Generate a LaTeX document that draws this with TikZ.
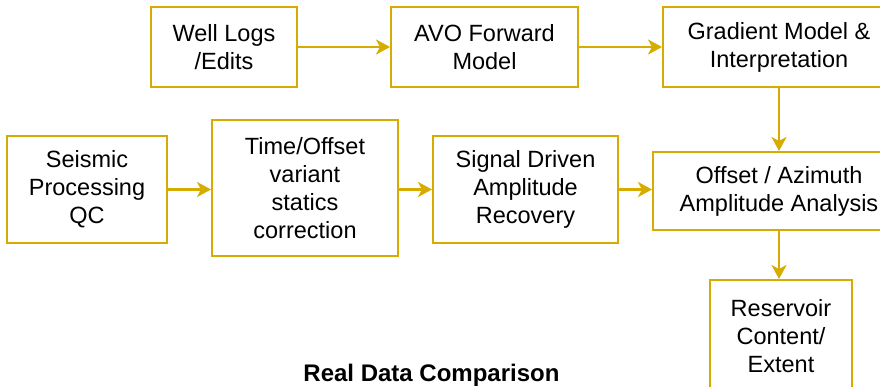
\documentclass[tikz,border=0pt]{standalone}
\usepackage{fontspec}
\setmainfont{Liberation Sans}
\usetikzlibrary{arrows.meta}
\definecolor{gold}{RGB}{214,172,0}
\begin{document}
\begin{tikzpicture}[x=1pt,y=-1pt,
  box/.style={draw=gold, line width=2pt, fill=white, align=center, inner sep=0pt,
    font=\fontsize{23.5}{28}\selectfont, text=black},
  flow/.style={draw=gold, line width=2.5pt, -{Stealth[length=14pt,width=15pt,inset=4pt]}},
  titletext/.style={font=\fontsize{24}{28}\selectfont\bfseries, text=black, inner sep=0pt}]
\useasboundingbox (0,0) rectangle (880,386);
\clip (0,0) rectangle (880,386);
\fill[white] (0,0) rectangle (880,386);
% top row
\node[box, minimum width=146pt, minimum height=80pt] (well) at (224,47) {Well Logs\\/Edits};
\node[box, minimum width=187pt, minimum height=80pt] (avo) at (484.5,47) {AVO Forward\\Model};
\node[box, minimum width=232pt, minimum height=80pt] (grad) at (779,47) {Gradient Model \&\\Interpretation};
% middle row
\node[box, minimum width=160pt, minimum height=107pt] (seis) at (87,189.5) {Seismic\\Processing\\QC};
\node[box, minimum width=186pt, minimum height=136pt] (time) at (305,188) {Time/Offset\\variant\\statics\\correction};
\node[box, minimum width=185pt, minimum height=107pt] (sig) at (525.5,189.5) {Signal Driven\\Amplitude\\Recovery};
\node[box, minimum width=252pt, minimum height=78pt] (off) at (779,191) {Offset / Azimuth\\Amplitude Analysis};
% bottom
\node[box, minimum width=142pt, minimum height=112pt] (res) at (781,336) {Reservoir\\Content/\\Extent};
\node[titletext] (title) at (431.5,375) {Real Data Comparison};
% connectors
\draw[flow] (well.east) -- (avo.west);
\draw[flow] (avo.east) -- (grad.west);
\draw[flow] (seis.east) -- (seis.east -| time.west);
\draw[flow] (seis.east -| time.east) -- (seis.east -| sig.west);
\draw[flow] (sig.east) -- (sig.east -| off.west);
\draw[flow] (grad.south) -- (off.north);
\draw[flow] (off.south) -- (off.south |- res.north);
\end{tikzpicture}
\end{document}
